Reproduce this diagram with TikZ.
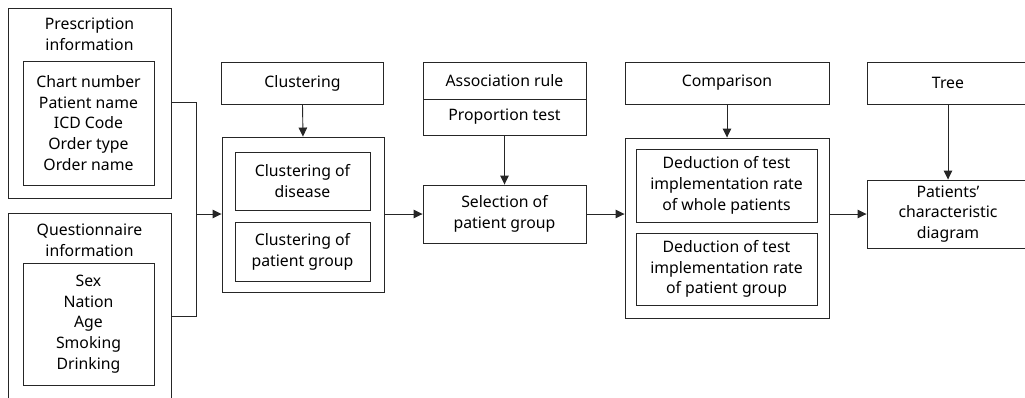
\documentclass[tikz,border=0pt]{standalone}
\usepackage{fontspec}
\setmainfont{Noto Sans}
\usetikzlibrary{arrows.meta}
\tikzset{
  bx/.style={draw=black!85, line width=0.9pt, inner sep=0pt, align=center, font=\fontsize{15.8}{20.7}\selectfont},
  lbl/.style={inner sep=0pt, align=center, font=\fontsize{15.8}{20.7}\selectfont},
  conn/.style={draw=black!85, line width=0.9pt},
  arr/.style={conn, -{Triangle[length=9pt,width=8.5pt]}}
}
\begin{document}
\begin{tikzpicture}[x=1pt,y=-1pt]
\useasboundingbox (0,0) rectangle (1025,397);
% left column
\node[bx, minimum width=163pt, minimum height=190pt] (presOuter) at (89.5,103) {};
\node[lbl] (presTitle) at (89.5,34) {Prescription\\information};
\node[bx, minimum width=131pt, minimum height=124pt] (presInner) at (88.5,123)
  {Chart number\\Patient name\\ICD Code\\Order type\\Order name};
\node[bx, minimum width=163pt, minimum height=198pt] (quesOuter) at (89.5,312) {};
\node[lbl] (quesTitle) at (89.5,240) {Questionnaire\\information};
\node[bx, minimum width=131pt, minimum height=122pt] (quesInner) at (88.5,324)
  {Sex\\Nation\\Age\\Smoking\\Drinking};
% clustering
\node[bx, minimum width=162pt, minimum height=42pt] (clustTop) at (302.5,83) {Clustering};
\node[bx, minimum width=162pt, minimum height=155pt] (clustOuter) at (303,214.5) {};
\node[bx, minimum width=135pt, minimum height=58pt] (clust1) at (302.5,181) {Clustering of\\disease};
\node[bx, minimum width=135pt, minimum height=59pt] (clust2) at (302.5,251.5) {Clustering of\\patient group};
% association
\node[bx, minimum width=163pt, minimum height=37pt] (assoc) at (504.5,80.5) {Association rule};
\node[bx, minimum width=163pt, minimum height=36pt] (prop) at (504.5,117) {Proportion test};
\node[bx, minimum width=163pt, minimum height=58pt] (select) at (504.5,214) {Selection of\\patient group};
% comparison
\node[bx, minimum width=204pt, minimum height=42pt] (compTop) at (727,83) {Comparison};
\node[bx, minimum width=204pt, minimum height=180pt] (compOuter) at (727,228) {};
\node[bx, minimum width=181pt, minimum height=73pt] (comp1) at (726.5,185.5)
  {Deduction of test\\implementation rate\\of whole patients};
\node[bx, minimum width=181pt, minimum height=72pt] (comp2) at (726.5,269)
  {Deduction of test\\implementation rate\\of patient group};
% tree
\node[bx, minimum width=162pt, minimum height=42pt] (tree) at (948,83) {Tree};
\node[bx, minimum width=162pt, minimum height=68pt] (pat) at (948,214)
  {Patients'\\characteristic\\diagram};
% connectors
\coordinate (jn) at (196,214);
\draw[conn] ([yshift=1pt]presOuter.east) -| (jn);
\draw[conn] ([yshift=-4pt]quesOuter.east) -| (jn);
\draw[arr] (jn) -- (clustOuter.west |- jn);
\draw[arr] (clustTop.south) -- (clustOuter.north);
\draw[arr] (clustOuter.east |- select.west) -- (select.west);
\draw[arr] (prop.south) -- (select.north);
\draw[arr] (select.east) -- (compOuter.west |- select.east);
\draw[arr] (compTop.south) -- (compOuter.north);
\draw[arr] (compOuter.east |- pat.west) -- (pat.west);
\draw[arr] (tree.south) -- (pat.north);
\end{tikzpicture}
\end{document}
